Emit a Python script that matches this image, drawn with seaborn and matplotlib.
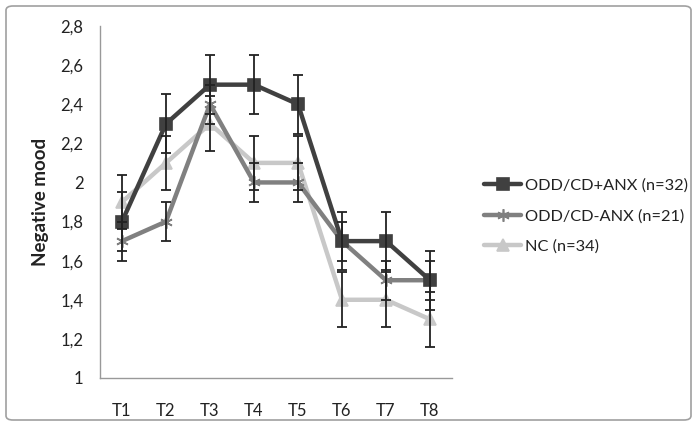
import matplotlib
matplotlib.use("Agg")
import matplotlib.pyplot as plt
from matplotlib.patches import FancyBboxPatch
import seaborn as sns
import pandas as pd
import numpy as np

# data
times = ["T1", "T2", "T3", "T4", "T5", "T6", "T7", "T8"]
groups = ["ODD/CD+ANX (n=32)", "ODD/CD-ANX (n=21)", "NC (n=34)"]
anx_mean = [1.8, 2.3, 2.5, 2.5, 2.4, 1.7, 1.7, 1.5]
noanx_mean = [1.7, 1.8, 2.4, 2.0, 2.0, 1.7, 1.5, 1.5]
nc_mean = [1.9, 2.1, 2.3, 2.1, 2.1, 1.4, 1.4, 1.3]
anx_err = [0.15, 0.15, 0.15, 0.15, 0.15, 0.15, 0.15, 0.15]
noanx_err = [0.10, 0.10, 0.10, 0.10, 0.10, 0.10, 0.10, 0.10]
nc_err = [0.14, 0.14, 0.14, 0.14, 0.14, 0.14, 0.14, 0.14]
y_ticks = [1, 1.2, 1.4, 1.6, 1.8, 2, 2.2, 2.4, 2.6, 2.8]

colors = ["#404040", "#808080", "#c8c8c8"]
markers = ["s", (6, 2, 0), "^"]
msizes = [8, 9, 8]

sns.set_style("white")
plt.rcParams["font.family"] = ["Lato", "DejaVu Sans"]

fig = plt.figure(figsize=(6.97, 4.26), dpi=100)
ax = fig.add_axes([100 / 697, 1 - 378 / 426, 352 / 697, 352 / 426])

series = [(anx_mean, anx_err), (noanx_mean, noanx_err), (nc_mean, nc_err)]
x = np.arange(len(times))
for i, (name, (m, e)) in enumerate(zip(groups, series)):
    df = pd.DataFrame({"x": x, "y": m})
    sns.lineplot(data=df, x="x", y="y", ax=ax, color=colors[i], lw=3.2,
                 marker=markers[i], markersize=msizes[i], markeredgecolor=colors[i],
                 markeredgewidth=1.2, label=name, zorder=3 - i * 0.1)
    ax.errorbar(x, m, yerr=e, fmt="none", ecolor="#222222", elinewidth=1.3,
                capsize=3.8, capthick=1.3, zorder=4)

ax.set_xlim(-0.5, 7.5)
ax.set_ylim(1, 2.8)
ax.set_xticks(x)
ax.set_xticklabels(times)
ax.set_xticks(np.arange(-0.5, 8, 1), minor=True)
ax.set_yticks(y_ticks)
ax.set_yticklabels([f"{v:g}".replace(".", ",") for v in y_ticks])
ax.tick_params(axis="x", which="major", length=0, pad=18, labelsize=12, colors="#222222")
ax.tick_params(axis="x", which="minor", length=5, width=1, color="#999999", direction="out")
ax.tick_params(axis="y", length=5, width=1, color="#999999", direction="out",
               pad=7, labelsize=12, labelcolor="#222222")
ax.set_xlabel("")
ax.set_ylabel("Negative mood", fontsize=13.5, fontweight="bold", labelpad=8, color="#222222")
for s in ["top", "right"]:
    ax.spines[s].set_visible(False)
for s in ["left", "bottom"]:
    ax.spines[s].set_color("#999999")
    ax.spines[s].set_linewidth(1)

ax.get_legend().remove()
handles, labels = ax.get_legend_handles_labels()
fig.legend(handles, labels, loc="center left", bbox_to_anchor=(469 / 697, 1 - 216 / 426),
           frameon=False, fontsize=11.8, handlelength=2.3, handletextpad=0.2,
           labelspacing=1.0, labelcolor="#222222")

border = FancyBboxPatch((6 / 697, 6 / 426), 685 / 697, 414 / 426,
                        boxstyle="round,pad=0,rounding_size=0.01",
                        transform=fig.transFigure, fill=False,
                        edgecolor="#a0a0a0", linewidth=1.2)
fig.patches.append(border)

fig.savefig("out.png", dpi=100)
